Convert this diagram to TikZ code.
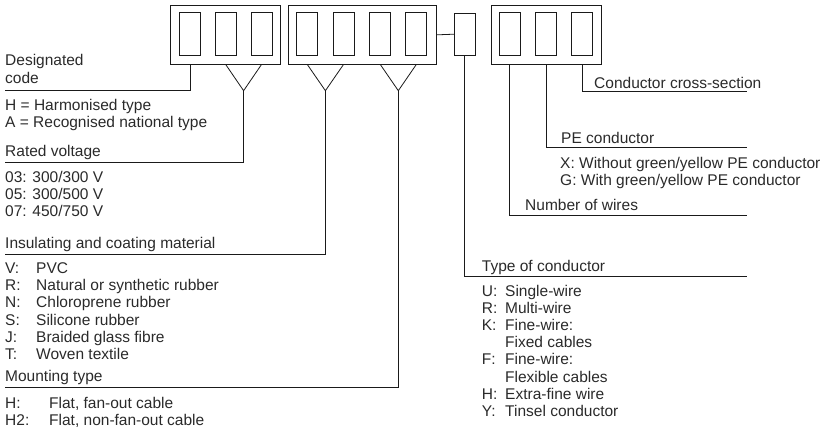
\documentclass[tikz,border=0pt]{standalone}
\usepackage{fontspec}
\setmainfont{Liberation Sans}
\definecolor{txt}{HTML}{2A2A2A}
\definecolor{ln}{HTML}{1A1A1A}
\begin{document}
\begin{tikzpicture}[x=1pt,y=-1pt,
  box/.style={draw=ln, line width=1pt, inner sep=0pt, minimum width=21pt, minimum height=42.5pt},
  outer/.style={draw=ln, line width=1pt, inner sep=0pt, minimum height=58.3pt},
  conn/.style={draw=ln, line width=0.8pt},
  lbl/.style={anchor=base west, inner sep=0pt, text=txt, font=\fontsize{15.5}{17.4}\selectfont}]
\useasboundingbox (0,0) rectangle (826,428);
% boxes
\node[outer, minimum width=110pt] (b1) at (225.7,34.85) {};
\node[outer, minimum width=148pt] (b2) at (362,34.85) {};
\node[outer, minimum width=110pt] (b3) at (546,34.85) {};
\node[box] (i11) at (190.3,34.2) {};
\node[box] (i12) at (225.7,34.2) {};
\node[box] (i13) at (261.5,34.2) {};
\node[box] (i21) at (307.3,34.2) {};
\node[box] (i22) at (343.5,34.2) {};
\node[box] (i23) at (380.3,34.2) {};
\node[box] (i24) at (416.3,34.2) {};
\node[box, minimum width=20.7pt, minimum height=41.7pt] (s) at (464.7,34.2) {};
\node[box] (i31) at (509.5,34.2) {};
\node[box] (i32) at (546.3,34.2) {};
\node[box] (i33) at (582.2,34.2) {};
% free ends
\coordinate (dc) at (5,90);
\coordinate (v1) at (243.6,90.7);
\coordinate (v2) at (325.4,90.7);
\coordinate (v3) at (398.3,90.7);
\coordinate (rv) at (5,162.7);
\coordinate (ic) at (5,254);
\coordinate (mt) at (5,387);
\coordinate (cs) at (746.7,91.7);
\coordinate (pe) at (746.7,147.3);
\coordinate (nw) at (746.7,215);
\coordinate (tc) at (746.7,276);
% connectors
\draw[conn] (b1.south -| i11.center) |- (dc);
\draw[conn] (b1.south -| i12.center) -- (v1) -- (b1.south -| i13.center);
\draw[conn] (v1) |- (rv);
\draw[conn] (b2.south -| i21.center) -- (v2) -- (b2.south -| i22.center);
\draw[conn] (v2) |- (ic);
\draw[conn] (b2.south -| i23.center) -- (v3) -- (b2.south -| i24.center);
\draw[conn] (v3) |- (mt);
\draw[conn] (b2.east) -- (s.west);
\draw[conn] (s.south) |- (tc);
\draw[conn] (b3.south -| i31.center) |- (nw);
\draw[conn] (b3.south -| i32.center) |- (pe);
\draw[conn] (b3.south -| i33.center) |- (cs);
% left texts
\node[lbl] (t1) at (5,66) {Designated};
\node[lbl] (t2) at (5,83.5) {code};
\node[lbl] (t3) at (5,110) {H = Harmonised type};
\node[lbl] (t4) at (5,127.5) {A = Recognised national type};
\node[lbl] (t5) at (5,156.7) {Rated voltage};
\node[lbl] (t6) at (5,182.3) {03: 300/300 V};
\node[lbl] (t7) at (5,199.6) {05: 300/500 V};
\node[lbl] (t8) at (5,216.9) {07: 450/750 V};
\node[lbl] (t9) at (5,248.5) {Insulating and coating material};
\node[lbl] (t10) at (5,273.3) {\makebox[31pt][l]{V:}PVC};
\node[lbl] (t11) at (5,290.6) {\makebox[31pt][l]{R:}Natural or synthetic rubber};
\node[lbl] (t12) at (5,307.9) {\makebox[31pt][l]{N:}Chloroprene rubber};
\node[lbl] (t13) at (5,325.2) {\makebox[31pt][l]{S:}Silicone rubber};
\node[lbl] (t14) at (5,342.5) {\makebox[31pt][l]{J:}Braided glass fibre};
\node[lbl] (t15) at (5,359.8) {\makebox[31pt][l]{T:}Woven textile};
\node[lbl] (t16) at (5,381.5) {Mounting type};
\node[lbl] (t17) at (5,408.5) {\makebox[44pt][l]{H:}Flat, fan-out cable};
\node[lbl] (t18) at (5,425.5) {\makebox[44pt][l]{H2:}Flat, non-fan-out cable};
% right texts
\node[lbl] (r1) at (594,88) {Conductor cross-section};
\node[lbl] (r2) at (561,143.3) {PE conductor};
\node[lbl] (r3) at (560,168.3) {X: Without green/yellow PE conductor};
\node[lbl] (r4) at (560,185.5) {G: With green/yellow PE conductor};
\node[lbl] (r5) at (525,210) {Number of wires};
\node[lbl] (r6) at (481.7,271.5) {Type of conductor};
\node[lbl] (r7) at (481.7,296) {\makebox[23.3pt][l]{U:}Single-wire};
\node[lbl] (r8) at (481.7,313.2) {\makebox[23.3pt][l]{R:}Multi-wire};
\node[lbl] (r9) at (481.7,330.4) {\makebox[23.3pt][l]{K:}Fine-wire:};
\node[lbl] (r10) at (481.7,347.6) {\makebox[23.3pt][l]{}Fixed cables};
\node[lbl] (r11) at (481.7,364.8) {\makebox[23.3pt][l]{F:}Fine-wire:};
\node[lbl] (r12) at (481.7,382) {\makebox[23.3pt][l]{}Flexible cables};
\node[lbl] (r13) at (481.7,399.2) {\makebox[23.3pt][l]{H:}Extra-fine wire};
\node[lbl] (r14) at (481.7,416.4) {\makebox[23.3pt][l]{Y:}Tinsel conductor};
\end{tikzpicture}
\end{document}
